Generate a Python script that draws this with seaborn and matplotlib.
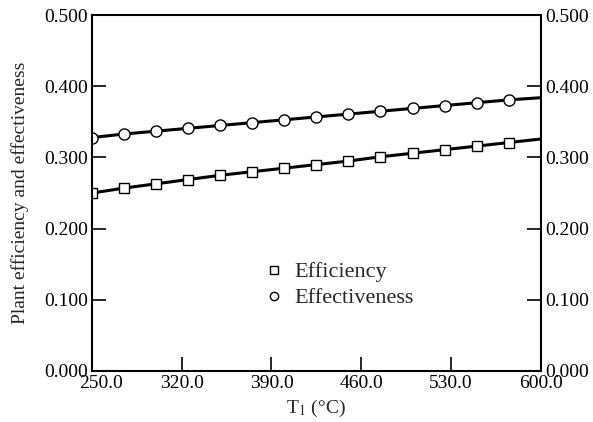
"""Plant efficiency and effectiveness vs. turbine inlet temperature T1."""

import pandas as pd
import matplotlib
matplotlib.use("Agg")
import matplotlib.pyplot as plt
import matplotlib.transforms as mtransforms
from matplotlib.lines import Line2D
import seaborn as sns

# valores (la última temperatura no lleva marcador)
temps = [250, 275, 300, 325, 350, 375, 400, 425, 450, 475, 500, 525, 550, 575, 600]
efficiency = [0.250, 0.257, 0.263, 0.269, 0.275, 0.280, 0.285, 0.290,
              0.295, 0.301, 0.306, 0.311, 0.316, 0.321, 0.326]
effectiveness = [0.328, 0.333, 0.337, 0.341, 0.345, 0.349, 0.353, 0.357,
                 0.361, 0.365, 0.369, 0.373, 0.377, 0.381, 0.384]
x_ticks = [250.0, 320.0, 390.0, 460.0, 530.0, 600.0]
y_ticks = [0.0, 0.1, 0.2, 0.3, 0.4, 0.5]

sns.set_style("ticks")
plt.rcParams["font.family"] = ["Liberation Serif", "DejaVu Serif"]
plt.rcParams["mathtext.fontset"] = "stix"

df = pd.DataFrame({"T1": temps, "Efficiency": efficiency, "Effectiveness": effectiveness})

fig = plt.figure(figsize=(5.93, 4.22), dpi=100)
ax = fig.add_axes([0.155, 0.121, 0.757, 0.843])

n_mark = len(temps) - 1
sns.lineplot(data=df, x="T1", y="Efficiency", ax=ax, color="black", lw=2.2,
             marker="s", markersize=7, markerfacecolor="white",
             markeredgecolor="black", markeredgewidth=1.0,
             markevery=list(range(n_mark)))
sns.lineplot(data=df, x="T1", y="Effectiveness", ax=ax, color="black", lw=2.2,
             marker="o", markersize=8, markerfacecolor="white",
             markeredgecolor="black", markeredgewidth=1.0,
             markevery=list(range(n_mark)))

ax.set_xlim(250, 600)
ax.set_ylim(0, 0.5)
ax.set_xticks(x_ticks)
ax.set_xticklabels([f"{t:.1f}" for t in x_ticks])
ax.set_yticks(y_ticks)
ax.set_yticklabels([f"{v:.3f}" for v in y_ticks])
ax.tick_params(axis="both", direction="in", length=10, width=1.2,
               labelsize=14, colors="black", pad=3)
ax.tick_params(axis="y", right=True, labelright=True)
for sp in ax.spines.values():
    sp.set_linewidth(1.5)
    sp.set_color("black")

# la etiqueta 250.0 va algo desplazada a la derecha, como en el original
first = ax.get_xticklabels()[0]
first.set_transform(first.get_transform() +
                    mtransforms.ScaledTranslation(0.09, 0, fig.dpi_scale_trans))

ax.set_xlabel("T$_1$ (°C)", fontsize=14, labelpad=4)
ax.set_ylabel("Plant efficiency and effectiveness", fontsize=14, labelpad=11)

handles = [
    Line2D([], [], ls="none", marker="s", ms=6, mfc="white", mec="black", mew=1.0),
    Line2D([], [], ls="none", marker="o", ms=6, mfc="white", mec="black", mew=1.0),
]
ax.legend(handles, ["Efficiency", "Effectiveness"], loc="upper left",
          bbox_to_anchor=(0.356, 0.338), frameon=False, fontsize=16,
          handlelength=1.0, handletextpad=0.4, borderpad=0, labelspacing=0.25)

fig.savefig("out.png", dpi=100)
